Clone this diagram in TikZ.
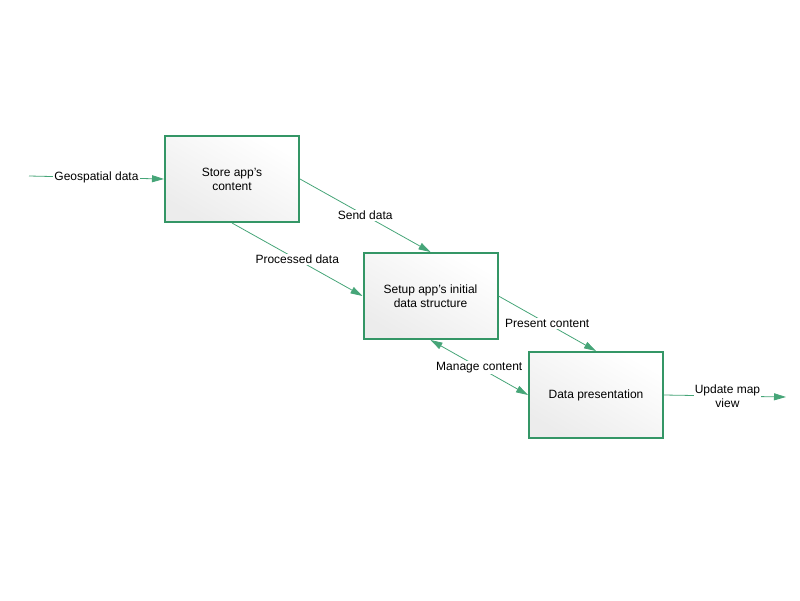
\documentclass[tikz,border=0pt]{standalone}
\usepackage{fontspec}
\setmainfont{Liberation Sans}
\usetikzlibrary{arrows.meta}
\definecolor{boxgreen}{RGB}{52,150,102}
\definecolor{linegreen}{RGB}{70,165,120}
\begin{document}
\begin{tikzpicture}[x=1pt,y=-1pt,
  every node/.style={font=\fontsize{12}{14}\selectfont},
  proc/.style={draw=boxgreen, line width=2pt, minimum width=134pt, minimum height=86pt,
    inner sep=0pt, align=center, shading=axis, top color=white, bottom color={rgb,255:red,236;green,236;blue,236}, shading angle=-30},
  flow/.style={draw=linegreen, line width=0.8pt, -{Triangle[length=12pt,width=7pt]}},
  lbl/.style={fill=white, inner sep=1pt, align=center}]
\useasboundingbox (0,0) rectangle (800,600);
\node[proc] (b1) at (232,179) {Store app's\\content};
\node[proc] (b2) at (430.5,296) {Setup app's initial\\data structure};
\node[proc] (b3) at (596,395) {Data presentation};
\coordinate (in) at (29,176);
\coordinate (out) at (786,397);
\draw[flow] (in) -- node[lbl,pos=0.5] {Geospatial data} (b1.west);
\draw[flow] (b1.east) -- node[lbl,pos=0.5] {Send data} (b2.north);
\draw[flow] (b1.south) -- node[lbl,pos=0.5] {Processed data} (b2.west);
\draw[flow] (b2.east) -- node[lbl,pos=0.5] {Present content} (b3.north);
\draw[flow,{Triangle[length=12pt,width=7pt]}-{Triangle[length=12pt,width=7pt]}] (b2.south) -- node[lbl,pos=0.5] {Manage content} (b3.west);
\draw[flow] (b3.east) -- node[lbl,pos=0.52] {Update map\\view} (out);
\end{tikzpicture}
\end{document}
